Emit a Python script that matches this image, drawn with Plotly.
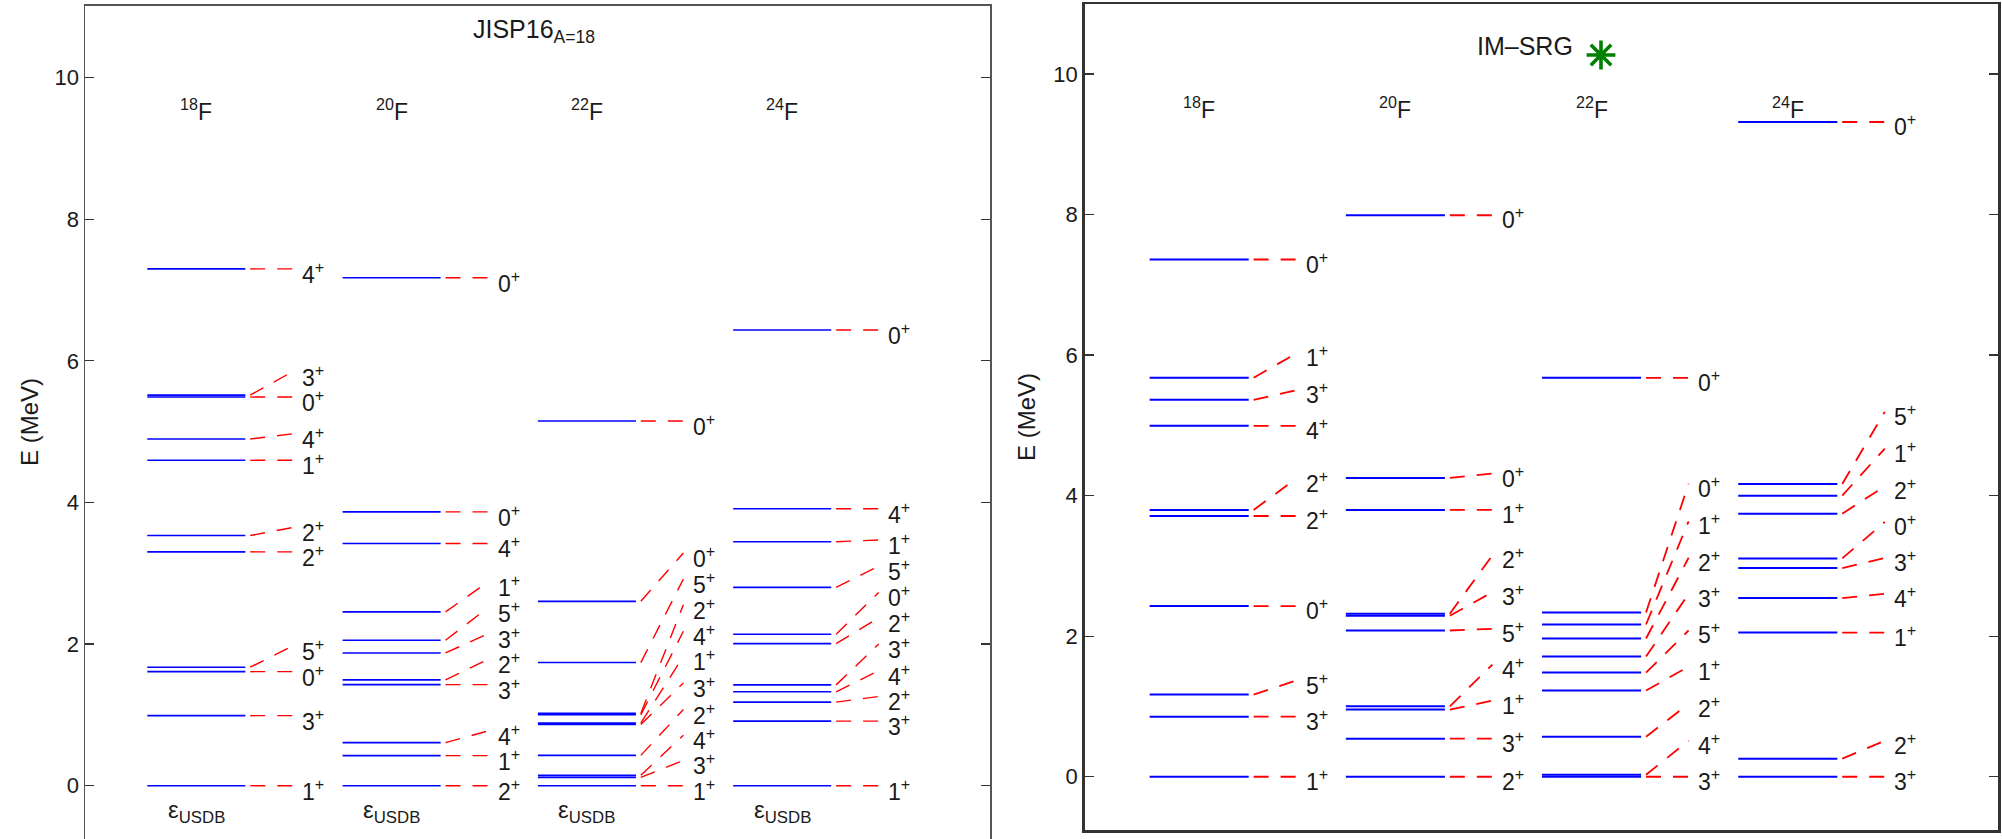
import plotly.graph_objects as go

# ---------------- data (energies in MeV, spins, label positions) ----------------
ISOTOPES = ["18", "20", "22", "24"]

# JISP16 (A=18) panel
F18_JISP_E = [0, 0.989, 1.611, 1.673, 3.303, 3.533, 4.596, 4.897, 5.489, 5.517, 7.30]
F18_JISP_J = ["1", "3", "0", "5", "2", "2", "1", "4", "0", "3", "4"]
F18_JISP_L = [0, 0.989, 1.611, 1.974, 3.303, 3.647, 4.596, 4.97, 5.489, 5.85, 7.30]

F20_JISP_E = [0, 0.424, 0.608, 1.428, 1.494, 1.875, 2.054, 2.455, 3.421, 3.868, 7.175]
F20_JISP_J = ["2", "1", "4", "3", "2", "3", "5", "1", "4", "0", "0"]
F20_JISP_L = [0, 0.424, 0.773, 1.428, 1.786, 2.148, 2.516, 2.879, 3.421, 3.868, 7.175]

F22_JISP_E = [0, 0.118, 0.146, 0.428, 0.864, 0.884, 1.001, 1.021, 1.739, 2.604, 5.152]
F22_JISP_J = ["1", "3", "4", "2", "3", "1", "4", "2", "5", "0", "0"]
F22_JISP_L = [0, 0.357, 0.714, 1.076, 1.452, 1.828, 2.181, 2.557, 2.919, 3.286, 5.152]

F24_JISP_E = [0, 0.912, 1.180, 1.326, 1.424, 2.007, 2.139, 2.801, 3.445, 3.911, 6.436]
F24_JISP_J = ["1", "3", "2", "4", "3", "2", "0", "5", "1", "4", "0"]
F24_JISP_L = [0, 0.912, 1.26, 1.626, 2.00, 2.37, 2.73, 3.10, 3.47, 3.911, 6.436]

# IM-SRG panel
F18_IMSRG_E = [0, 0.855, 1.169, 2.428, 3.710, 3.796, 4.993, 5.363, 5.677, 7.36]
F18_IMSRG_J = ["1", "3", "5", "0", "2", "2", "4", "3", "1", "0"]
F18_IMSRG_L = [0, 0.855, 1.368, 2.428, 3.710, 4.242, 4.993, 5.501, 6.024, 7.36]

F20_IMSRG_E = [0, 0.542, 0.955, 1.002, 2.081, 2.29, 2.32, 3.796, 4.252, 7.99]
F20_IMSRG_J = ["2", "3", "1", "4", "5", "3", "2", "1", "0", "0"]
F20_IMSRG_L = [0, 0.542, 1.083, 1.596, 2.105, 2.627, 3.15, 3.796, 4.313, 7.99]

F22_IMSRG_E = [0, 0.028, 0.570, 1.226, 1.482, 1.710, 1.967, 2.166, 2.337, 5.677]
F22_IMSRG_J = ["3", "4", "2", "1", "5", "3", "2", "1", "0", "0"]
F22_IMSRG_L = [0, 0.513, 1.036, 1.568, 2.081, 2.603, 3.116, 3.634, 4.171, 5.677]

F24_IMSRG_E = [0, 0.257, 2.052, 2.542, 2.969, 3.107, 3.743, 4.000, 4.166, 9.317]
F24_IMSRG_J = ["3", "2", "1", "4", "3", "0", "2", "1", "5", "0"]
F24_IMSRG_L = [0, 0.513, 2.052, 2.603, 3.112, 3.625, 4.133, 4.670, 5.192, 9.317]

Y_TICKS = [0, 2, 4, 6, 8, 10]
TITLE_JISP = "JISP16<sub>A=18</sub>"
TITLE_IMSRG = "IM\u2013SRG"
EPS_LABEL = "\u03b5<sub>USDB</sub>"
Y_TITLE = "E (MeV)"

JISP = [(F18_JISP_E, F18_JISP_J, F18_JISP_L), (F20_JISP_E, F20_JISP_J, F20_JISP_L),
        (F22_JISP_E, F22_JISP_J, F22_JISP_L), (F24_JISP_E, F24_JISP_J, F24_JISP_L)]
IMSRG = [(F18_IMSRG_E, F18_IMSRG_J, F18_IMSRG_L), (F20_IMSRG_E, F20_IMSRG_J, F20_IMSRG_L),
         (F22_IMSRG_E, F22_IMSRG_J, F22_IMSRG_L), (F24_IMSRG_E, F24_IMSRG_J, F24_IMSRG_L)]

# ---------------- layout / style ----------------
W, H = 2002, 839
FONT = "Liberation Sans, Arial, Helvetica, sans-serif"
TXT = "#1a1a1a"

panels = [
    dict(name="jisp", data=JISP, xa="x", ya="y",
         px_left=85, px_right=990, unit=195.3, off=0.319, lw=0.502,
         c0=0.527, c1=0.745, lx=0.783,
         yr=[-0.753, 11.017], ydom=[0.0, 1 - 5.7 / H],
         level_w=1.6, conn_w=1.4, frame_w=1.5, frame_c="#555555",
         lab_shift=-4, eps=True, iso_y=9.54),
    dict(name="imsrg", data=IMSRG, xa="x2", ya="y2",
         px_left=1084.7, px_right=1998, unit=196.2, off=0.331, lw=0.505,
         c0=0.530, c1=0.747, lx=0.785,
         yr=[-0.758, 10.996], ydom=[1 - 830 / H, 1 - 4 / H],
         level_w=2.0, conn_w=1.8, frame_w=2.5, frame_c="#333333",
         lab_shift=-3, eps=False, iso_y=9.52),
]

fig = go.Figure()
annotations = []

for p in panels:
    for ci, (E, J, L) in enumerate(p["data"]):
        x0 = ci + p["off"]
        # level lines (one trace per column, segments separated by None)
        xs, ys = [], []
        for e in E:
            xs += [x0, x0 + p["lw"], None]
            ys += [e, e, None]
        fig.add_trace(go.Scatter(x=xs, y=ys, mode="lines", xaxis=p["xa"], yaxis=p["ya"],
                                 line=dict(color="#0000ff", width=p["level_w"]),
                                 hoverinfo="skip", showlegend=False))
        # dashed connectors + spin labels
        for e, j, l in zip(E, J, L):
            fig.add_trace(go.Scatter(x=[x0 + p["c0"], x0 + p["c1"]], y=[e, l], mode="lines",
                                     xaxis=p["xa"], yaxis=p["ya"],
                                     line=dict(color="#ff0000", width=p["conn_w"], dash="15px,12px"),
                                     hoverinfo="skip", showlegend=False))
            annotations.append(dict(x=x0 + p["lx"], y=l, xref=p["xa"], yref=p["ya"],
                                    text=j + "<sup>+</sup>", showarrow=False,
                                    xanchor="left", yanchor="middle", yshift=p["lab_shift"],
                                    font=dict(family=FONT, size=23, color=TXT)))
        # isotope label
        annotations.append(dict(x=x0 + p["lw"] / 2, y=p["iso_y"], xref=p["xa"], yref=p["ya"],
                                text="<sup>" + ISOTOPES[ci] + "</sup>F", showarrow=False,
                                xanchor="center", yanchor="middle",
                                font=dict(family=FONT, size=23, color=TXT)))
        if p["eps"]:
            annotations.append(dict(x=x0 + p["lw"] / 2, y=-0.36, xref=p["xa"], yref=p["ya"],
                                    text=EPS_LABEL, showarrow=False,
                                    xanchor="center", yanchor="middle",
                                    font=dict(family=FONT, size=24, color=TXT)))

# titles
annotations.append(dict(x=534 / W, y=1 - 31 / H, xref="paper", yref="paper", text=TITLE_JISP,
                        showarrow=False, xanchor="center", yanchor="middle",
                        font=dict(family=FONT, size=25, color=TXT)))
annotations.append(dict(x=1524.7 / W, y=1 - 46 / H, xref="paper", yref="paper", text=TITLE_IMSRG,
                        showarrow=False, xanchor="center", yanchor="middle",
                        font=dict(family=FONT, size=25, color=TXT)))
# y-axis titles
annotations.append(dict(x=29 / W, y=1 - 422 / H, xref="paper", yref="paper", text=Y_TITLE,
                        showarrow=False, textangle=-90, xanchor="center", yanchor="middle",
                        font=dict(family=FONT, size=24, color=TXT)))
annotations.append(dict(x=1027 / W, y=1 - 417 / H, xref="paper", yref="paper", text=Y_TITLE,
                        showarrow=False, textangle=-90, xanchor="center", yanchor="middle",
                        font=dict(family=FONT, size=24, color=TXT)))

# green asterisk next to the IM-SRG title (title decoration)
pr = panels[1]
ast_x = (1601 - pr["px_left"]) / pr["unit"]
ast_y = pr["yr"][1] - (55 - 4) / ((830 - 4) / (pr["yr"][1] - pr["yr"][0]))
fig.add_trace(go.Scatter(x=[ast_x], y=[ast_y], mode="markers", xaxis="x2", yaxis="y2",
                         marker=dict(symbol="asterisk-open", size=24, color="#008000",
                                     line=dict(color="#008000", width=3.6)),
                         hoverinfo="skip", showlegend=False))

layout = dict(width=W, height=H, margin=dict(l=0, r=0, t=0, b=0), autosize=False,
              paper_bgcolor="white", plot_bgcolor="white", annotations=annotations,
              showlegend=False)

for p in panels:
    xkey = "xaxis" if p["xa"] == "x" else "xaxis2"
    ykey = "yaxis" if p["ya"] == "y" else "yaxis2"
    layout[xkey] = dict(domain=[p["px_left"] / W, p["px_right"] / W],
                        range=[0, (p["px_right"] - p["px_left"]) / p["unit"]],
                        anchor=p["ya"], showgrid=False, zeroline=False, showticklabels=False,
                        ticks="", showline=True, linecolor=p["frame_c"], linewidth=p["frame_w"],
                        side="top", mirror=(p["name"] == "imsrg"), fixedrange=True)
    layout[ykey] = dict(domain=p["ydom"], range=p["yr"], anchor=p["xa"], showgrid=False,
                        zeroline=False, tickvals=Y_TICKS, ticktext=[str(t) for t in Y_TICKS],
                        ticks="inside", ticklen=9, tickwidth=1.2, tickcolor="#333333",
                        showline=True, linecolor=p["frame_c"], linewidth=p["frame_w"],
                        mirror="ticks", ticklabelstandoff=0,
                        tickfont=dict(family=FONT, size=22, color=TXT), fixedrange=True)

fig.update_layout(**layout)
fig.write_html("out.html", config={"displayModeBar": False, "staticPlot": True},
               post_script="document.body.style.margin='0';document.body.style.padding='0';"
                           "document.body.style.overflow='hidden';")
